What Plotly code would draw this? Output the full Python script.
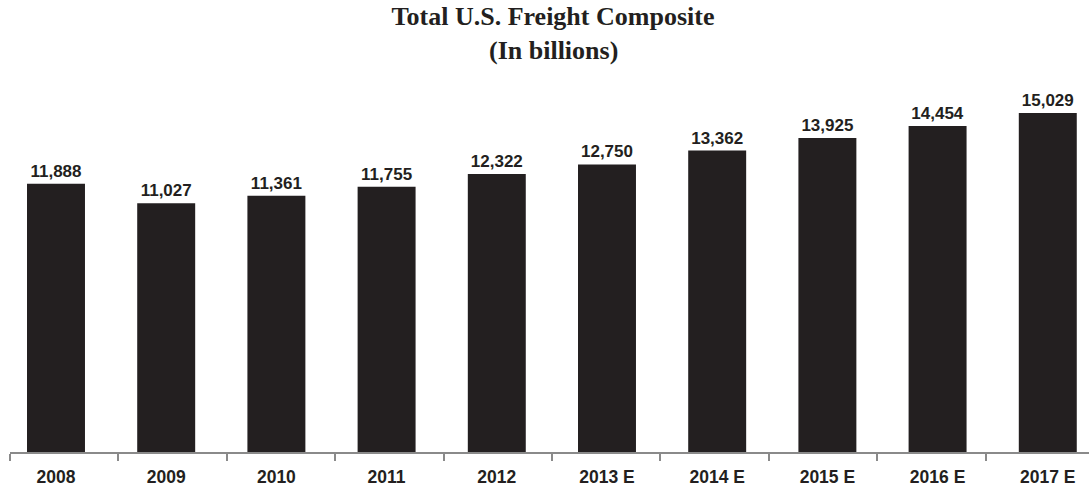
import plotly.graph_objects as go

years = ["2008", "2009", "2010", "2011", "2012", "2013 E", "2014 E", "2015 E", "2016 E", "2017 E"]
values = [11888, 11027, 11361, 11755, 12322, 12750, 13362, 13925, 14454, 15029]
labels = [f"{v:,}" for v in values]
positions = list(range(len(years)))

SANS = "Liberation Sans, Arial, sans-serif"
SERIF = "Liberation Serif, Times New Roman, serif"
INK = "#231f20"

fig = go.Figure()
fig.add_trace(go.Bar(
    x=positions, y=values, text=labels, textposition="outside",
    textfont=dict(family=SANS, size=17, color=INK, weight="bold"),
    marker=dict(color=INK, line=dict(width=0)),
    width=0.526, cliponaxis=False, hoverinfo="skip",
))
# empty trace so that the tick-mark axis (category boundaries) is drawn
fig.add_trace(go.Scatter(x=[], y=[], xaxis="x2", yaxis="y", hoverinfo="skip"))

fig.update_layout(
    width=1089, height=488,
    margin=dict(l=10, r=0, t=80, b=36),
    paper_bgcolor="white", plot_bgcolor="white",
    showlegend=False,
    title=dict(
        text="<b>Total U.S. Freight Composite</b>",
        font=dict(family=SERIF, size=26, color=INK),
        x=553/1089, xanchor="center", xref="container",
        y=1 - 7/488, yanchor="top", yref="container",
    ),
    annotations=[dict(
        text="<b>(In billions)</b>", showarrow=False,
        xref="paper", yref="paper",
        x=(553-10)/1079, y=1 + (80-67)/372, xanchor="center", yanchor="bottom",
        font=dict(family=SERIF, size=26, color=INK),
    )],
    xaxis=dict(
        range=[-0.4174, 9.374], tickmode="array", tickvals=positions, ticktext=years,
        ticks="", showline=False, showgrid=False, zeroline=False,
        tickfont=dict(family=SANS, size=17.5, color=INK, weight="bold"),
        ticklabelstandoff=12,
    ),
    xaxis2=dict(
        overlaying="x", anchor="y", side="bottom",
        range=[0, 1079/108.4], tickmode="array", tickvals=list(range(10)),
        showticklabels=False, ticks="outside", ticklen=7, tickwidth=1.5, tickcolor="#8a8a8a",
        showline=True, linecolor="#8a8a8a", linewidth=1.5, showgrid=False, zeroline=False,
    ),
    yaxis=dict(range=[0, 16492], visible=False, showgrid=False, zeroline=False),
)

fig.write_html("out.html", config={"displayModeBar": False},
               post_script="document.body.style.margin='0';")
